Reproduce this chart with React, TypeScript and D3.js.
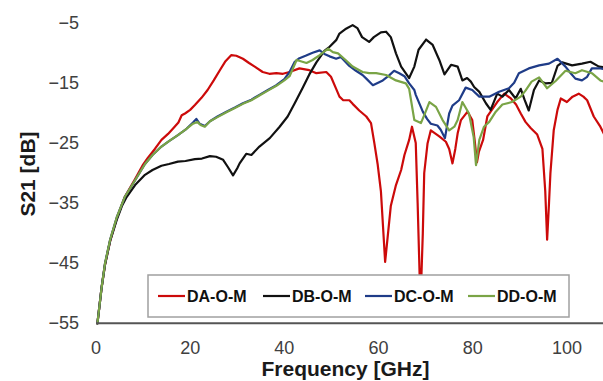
import React from "react";
import * as d3 from "d3";

const WIDTH = 603;
const HEIGHT = 381;

const xTicks = [0, 20, 40, 60, 80, 100];
const yTicks = [-55, -45, -35, -25, -15, -5];

const seriesNames = ["DA-O-M", "DB-O-M", "DC-O-M", "DD-O-M"];
const seriesColors = ["#cc0a0a", "#111111", "#1f3c88", "#7aa446"];

// Frequency in GHz, S21 in dB
const daFreq = [0.3, 0.6, 1.2, 1.9, 3, 4.4, 6.1, 8.3, 10, 11, 12.5, 13.9, 15.3, 16.7, 17.5, 18.2, 18.9, 20, 21, 22.4, 23.7, 25, 26.3, 27.5, 28.7, 29.8, 31.2, 32.5, 33.7, 35.4, 36.8, 38.3, 39.7, 41.1, 43.2, 45.3, 46.8, 48.9, 49.9, 51, 51.7, 52.5, 53.8, 54.5, 55.9, 57.4, 58.4, 59.1, 59.8, 60.5, 61.4, 62.6, 63.7, 64.8, 65.5, 66.5, 67.1, 67.9, 68.3, 68.9, 69.4, 69.7, 70.4, 71.1, 72, 72.9, 74.3, 75, 75.7, 76.3, 76.8, 77.5, 78.9, 79.9, 80.4, 80.9, 81.3, 82.2, 83.1, 85.2, 86.7, 88.1, 89.2, 90.2, 91.2, 92.3, 93.7, 94.8, 95.4, 95.8, 96.2, 96.5, 97.2, 98, 98.7, 100, 101.2, 102.5, 103.5, 104.3, 105.7, 107.1, 108.5];
const daS21 = [-55, -53, -49, -45.3, -41.3, -37.6, -34, -31, -28.6, -27.5, -26, -24.5, -23.5, -22.3, -21.6, -20.4, -20.1, -19.5, -18.7, -17.5, -16.2, -14.6, -12.9, -11.4, -10.4, -10.5, -11, -11.7, -12.3, -13.2, -13.5, -13.4, -13.5, -13.2, -12.6, -12.9, -13.4, -13.2, -14, -16, -17.3, -17.9, -17.9, -18.5, -19.6, -20.6, -21.7, -25, -28.5, -33, -44.8, -35.5, -32, -29.5, -27, -24.5, -22.3, -25, -35, -52, -40, -30, -25.1, -22.9, -23.4, -23.9, -24.8, -26, -28.4, -26, -23.4, -21.2, -19.8, -21.2, -24.5, -28.2, -26.5, -24.5, -20.6, -18.2, -16.8, -17.6, -18.6, -20.1, -21.5, -22.5, -23.6, -26, -33, -41.1, -35, -30, -22.9, -19.5, -17.6, -18.2, -17.3, -16.8, -17.3, -17.9, -20.6, -22.3, -24.5];

const dbFreq = [0.3, 0.6, 1.2, 1.9, 3, 4.4, 5.5, 6.5, 8.3, 10.4, 12, 13.9, 15.5, 17.4, 19, 21, 22.5, 24.2, 25.5, 27, 28, 29.1, 30, 30.5, 31.9, 33, 34.7, 36.9, 39, 40.7, 42.2, 43.9, 45.3, 46.8, 48.5, 49.6, 51, 51.7, 53.1, 54.5, 55.5, 56.5, 58, 59, 60.5, 61.6, 62.6, 63.7, 64.8, 66.5, 67.6, 68.5, 70.1, 71.5, 72.9, 74, 75.4, 76.8, 77.8, 78.8, 79.6, 80.3, 81.4, 82.8, 83.8, 85.2, 86.3, 87.7, 89.1, 90.2, 91, 91.9, 93, 94.1, 95.5, 96.8, 98, 99, 101.1, 103.2, 105, 106.8, 108.5];
const dbS21 = [-55, -53, -49, -45.3, -41.3, -37.8, -35.5, -34, -32, -30.3, -29.5, -28.8, -28.5, -28.1, -28, -27.7, -27.6, -27.2, -27.3, -27.8, -29, -30.4, -29.2, -28.4, -26.8, -27, -25.6, -24.2, -22.3, -20.6, -18.4, -15.8, -13.6, -11.6, -9.7, -9, -7.9, -6.8, -6, -5.4, -5.9, -7.4, -8.2, -7.4, -6.6, -6.5, -7.4, -10.1, -12.3, -14.2, -12.3, -9.5, -7.8, -8.7, -11.2, -13.6, -12, -12.3, -14.6, -14.2, -14.8, -15.7, -16.5, -18.4, -19.5, -16.8, -17.3, -16.2, -17.6, -16, -17.8, -19.6, -16.2, -14.6, -15.1, -15, -12.2, -11.6, -12.1, -11.8, -11.5, -12.3, -12.5];

const dcFreq = [0.3, 0.6, 1.2, 1.9, 3, 4.4, 6.1, 8.3, 10.4, 12, 13.9, 15.5, 17.4, 19, 20.6, 21.3, 22, 23.1, 24.2, 25.8, 27.7, 29.5, 31.2, 33, 34.7, 36.5, 38.3, 40, 41.1, 42.2, 43.2, 44.5, 46, 47.5, 48.5, 49.6, 51, 52, 53.8, 55.2, 56.6, 57.4, 58.8, 60.9, 62.2, 63.3, 64.4, 65.5, 66.5, 67.6, 67.9, 69.4, 70.3, 71.1, 72.5, 73.2, 74.1, 75, 75.7, 77.1, 78.5, 79.9, 81.4, 83.5, 85.6, 87.7, 88.8, 89.8, 91.9, 94.1, 96.2, 98, 99.7, 100.8, 101.8, 103.2, 104.3, 105.3, 107.1, 108.5];
const dcS21 = [-55, -53, -49, -45.1, -41.1, -37.4, -34, -31.2, -28.5, -27, -25.6, -24.7, -23.7, -22.8, -21.6, -21, -21.8, -22.2, -21.4, -20.6, -19.8, -19.1, -18.4, -17.8, -17, -16.2, -15.4, -14.4, -13.2, -11.5, -10.9, -10.5, -10, -9.6, -10.2, -10.6, -11, -10.7, -12.2, -13, -13.7, -14.3, -15.4, -14.6, -13.8, -13, -13.4, -13.9, -15.1, -16.2, -17, -19.8, -21, -21.8, -22.1, -22.8, -24.2, -20.1, -18.8, -17.9, -15.8, -16.2, -17.3, -17.3, -16.5, -15.9, -15, -13.4, -12.6, -12.1, -11.8, -11, -12.3, -13.4, -14.3, -14.6, -14, -12.6, -12.6, -12.8];

const ddFreq = [0.3, 0.6, 1.2, 1.9, 3, 4.4, 6.1, 8.3, 10.4, 12, 13.9, 15.5, 17.4, 19, 20.6, 21.5, 22.2, 23.1, 24.2, 25.8, 27.7, 29.5, 31.2, 33, 34.7, 36.5, 38.3, 40, 41.1, 42.6, 44.7, 46, 47.5, 49.3, 50.3, 51.4, 53, 54.5, 56.6, 58, 59.5, 61.6, 63.7, 65.8, 66.5, 66.9, 67.6, 69, 69.9, 70.8, 72.2, 73.6, 75, 76.1, 76.8, 77.8, 79.2, 80.2, 80.7, 81.4, 82.4, 83.5, 84.9, 86.3, 88.3, 90.2, 91.2, 92.5, 94.1, 95.8, 97.6, 99.7, 101.8, 103.2, 105.3, 107.1, 108.5];
const ddS21 = [-55, -53, -49, -45.1, -41.1, -37.4, -34, -31.2, -28.5, -27, -25.6, -24.7, -23.7, -22.8, -21.8, -21.5, -22, -22.3, -21.4, -20.7, -19.9, -19.2, -18.5, -17.9, -17.1, -16.3, -15.5, -14.6, -13.9, -11.2, -11.7, -11.2, -10.4, -9.3, -9.9, -10.1, -11.2, -12.3, -13.2, -13.4, -13.4, -13.7, -14.6, -15.1, -16, -17.9, -21.2, -21.7, -20, -18.2, -19, -21.2, -22.9, -22.3, -21.2, -18.2, -20.1, -24, -28.7, -24.5, -22.3, -21.5, -19.8, -18.6, -18.2, -17.3, -16.3, -14.8, -14.1, -15.9, -14.7, -13, -13.4, -12.9, -13.4, -14.6, -15];

const seriesFreq = [daFreq, dbFreq, dcFreq, ddFreq];
const seriesS21 = [daS21, dbS21, dcS21, ddS21];

const legendLineX = [158, 263, 365, 468];

export default function App() {
  const x = d3.scaleLinear().domain([0, 110]).range([96, 614]);
  const y = d3.scaleLinear().domain([-55, -5]).range([323.3, 22.7]);

  const line = d3
    .line<[number, number]>()
    .x((d) => x(d[0]))
    .y((d) => y(d[1]))
    .curve(d3.curveLinear);

  const fmt = (v: number) => (v < 0 ? "\u2212" + Math.abs(v) : String(v));

  return (
    <svg
      width={WIDTH}
      height={HEIGHT}
      style={{ position: "absolute", left: 0, top: 0, background: "#fff" }}
      fontFamily="'Liberation Sans', Arial, sans-serif"
    >
      <rect x={0} y={0} width={WIDTH} height={HEIGHT} fill="#ffffff" />

      {/* y tick labels */}
      {yTicks.map((t) => (
        <text
          key={"y" + t}
          x={79}
          y={y(t)}
          textAnchor="end"
          dominantBaseline="central"
          fontSize={18}
          fill="#404040"
        >
          {fmt(t)}
        </text>
      ))}

      {/* x tick labels */}
      {xTicks.map((t) => (
        <text
          key={"x" + t}
          x={x(t)}
          y={347.5}
          textAnchor="middle"
          dominantBaseline="central"
          fontSize={18}
          fill="#404040"
        >
          {t}
        </text>
      ))}

      {/* series */}
      {seriesFreq.map((fr, i) => {
        const pts = fr.map((f, j) => [f, seriesS21[i][j]] as [number, number]);
        return (
          <path
            key={seriesNames[i]}
            d={line(pts) || ""}
            fill="none"
            stroke={seriesColors[i]}
            strokeWidth={2.2}
            strokeLinejoin="round"
            strokeLinecap="round"
          />
        );
      })}

      {/* x axis line */}
      <line x1={x(0)} x2={WIDTH} y1={323.3} y2={323.3} stroke="#555555" strokeWidth={2} />

      {/* legend */}
      <rect x={148} y={275} width={421} height={42} fill="#ffffff" stroke="#a0a0a0" strokeWidth={1.5} />
      {seriesNames.map((name, i) => (
        <g key={"lg" + name}>
          <line
            x1={legendLineX[i]}
            x2={legendLineX[i] + 27}
            y1={296}
            y2={296}
            stroke={seriesColors[i]}
            strokeWidth={2.2}
          />
          <text
            x={legendLineX[i] + 29}
            y={296}
            dominantBaseline="central"
            fontSize={16}
            fontWeight="bold"
            fill="#111111"
          >
            {name}
          </text>
        </g>
      ))}

      {/* axis titles */}
      <text
        x={345.5}
        y={368}
        textAnchor="middle"
        dominantBaseline="central"
        fontSize={21}
        fontWeight="bold"
        fill="#1a1a1a"
      >
        Frequency [GHz]
      </text>
      <text
        transform={`translate(27,174) rotate(-90)`}
        textAnchor="middle"
        dominantBaseline="central"
        fontSize={21}
        fontWeight="bold"
        fill="#1a1a1a"
      >
        S21 [dB]
      </text>
    </svg>
  );
}
